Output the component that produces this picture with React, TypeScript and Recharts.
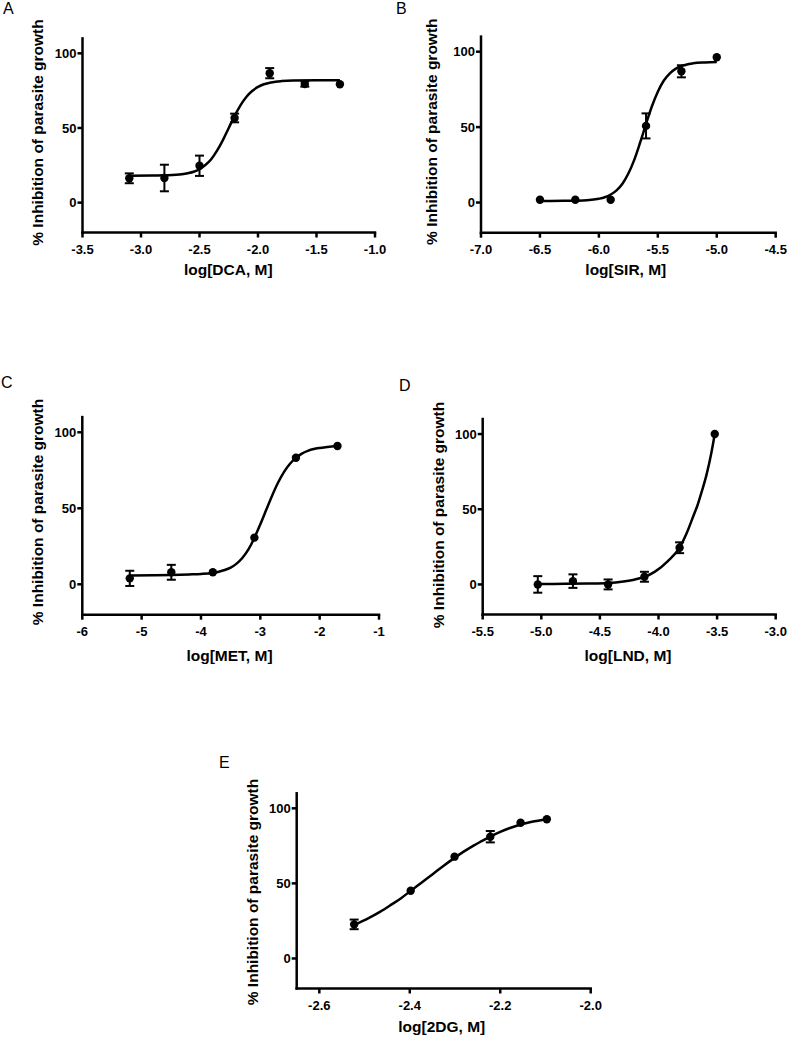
import { ComposedChart, Line, Scatter, XAxis, YAxis, ErrorBar, Label } from 'recharts';

const FONT = '"Liberation Sans", Arial, Helvetica, sans-serif';

// shared y ticks
const yTicks = [0, 50, 100];
const yDomain: [number, number] = [-20, 110];

// A - DCA
const dcaX = [-3.1, -2.8, -2.5, -2.2, -1.9, -1.6, -1.3];
const dcaY = [16.3, 16.5, 24.7, 56.7, 86.7, 79.5, 79.3];
const dcaErr = [3.3, 8.9, 6.8, 2.9, 3.4, 1.8, 0];
const dcaFitX = [-3.1, -2.9, -2.8, -2.7, -2.65, -2.6, -2.55, -2.5, -2.45, -2.4, -2.35, -2.3, -2.25, -2.2, -2.15, -2.1, -2.05, -2.0, -1.95, -1.9, -1.85, -1.8, -1.7, -1.5, -1.3];
const dcaFitY = [18, 18.1, 18.3, 18.6, 19, 19.7, 20.7, 22.5, 25.2, 29.1, 34.8, 41.9, 50, 58.1, 65.2, 70.8, 74.8, 77.5, 79.3, 80.3, 81, 81.4, 81.8, 82, 82];
const dcaTicks = [-3.5, -3.0, -2.5, -2.0, -1.5, -1.0];

// B - SIR
const sirX = [-6.5, -6.2, -5.9, -5.6, -5.3, -5.0];
const sirY = [1.8, 1.8, 1.8, 50.8, 87, 96.3];
const sirErr = [0, 0, 0, 8.3, 4, 0];
const sirFitX = [-6.5, -6.3, -6.2, -6.1, -6.0, -5.95, -5.9, -5.85, -5.8, -5.75, -5.7, -5.65, -5.6, -5.55, -5.5, -5.45, -5.4, -5.35, -5.3, -5.2, -5.1, -5.0];
const sirFitY = [1, 1.1, 1.2, 1.5, 2.5, 3.5, 5.3, 8.1, 12.5, 19.2, 28.3, 39.8, 52.1, 63.8, 73.5, 80.7, 85.5, 88.6, 90.5, 92.3, 92.9, 93.2];
const sirTicks = [-7.0, -6.5, -6.0, -5.5, -5.0, -4.5];

// C - MET
const metX = [-5.2, -4.5, -3.8, -3.1, -2.4, -1.7];
const metY = [3.9, 7.9, 7.9, 30.7, 83.3, 91];
const metErr = [5, 4.9, 0, 0, 0, 0];
const metFitX = [-5.2, -4.8, -4.5, -4.2, -4.0, -3.8, -3.7, -3.6, -3.5, -3.4, -3.3, -3.2, -3.1, -3.0, -2.9, -2.8, -2.7, -2.6, -2.5, -2.4, -2.3, -2.2, -2.1, -2.0, -1.9, -1.8, -1.7];
const metFitY = [5.8, 6, 6.2, 6.5, 6.8, 7.5, 8.3, 9.4, 11, 13.6, 17.5, 23, 30.5, 39.5, 49, 58.5, 67, 74, 79.3, 83.2, 86, 87.8, 89, 89.7, 90.2, 90.6, 91];
const metTicks = [-6, -5, -4, -3, -2, -1];

// D - LND
const lndX = [-5.03, -4.73, -4.43, -4.12, -3.82, -3.52];
const lndY = [0, 2.2, 0, 5.1, 24.4, 100];
const lndErr = [5.5, 4.5, 3.3, 3.3, 3.6, 0];
const lndFitX = [-5.03, -4.8, -4.6, -4.43, -4.3, -4.2, -4.12, -4.03, -3.92, -3.82, -3.76, -3.7, -3.67, -3.63, -3.59, -3.55, -3.52];
const lndFitY = [0.3, 0.4, 0.6, 1, 2, 3.3, 5, 8.5, 15.5, 24.5, 34, 46, 52, 62, 73, 87, 100];
const lndTicks = [-5.5, -5.0, -4.5, -4.0, -3.5, -3.0];

// E - 2DG
const dgX = [-2.523, -2.398, -2.301, -2.222, -2.155, -2.097];
const dgY = [22.7, 45.1, 67.8, 81.1, 90.4, 92.7];
const dgErr = [3.2, 0, 0, 3.8, 0, 0];
const dgFitX = [-2.523, -2.49, -2.466, -2.44, -2.42, -2.398, -2.375, -2.348, -2.325, -2.301, -2.28, -2.259, -2.24, -2.222, -2.2, -2.18, -2.155, -2.13, -2.097];
const dgFitY = [22.3, 27, 31, 36, 40, 45, 50.3, 56.5, 61.8, 67, 71.3, 75.2, 78.3, 81.2, 84.3, 86.7, 89.2, 91, 92.7];
const dgTicks = [-2.6, -2.4, -2.2, -2.0];

const toPoints = (xs: number[], ys: number[], errs: number[]) =>
  xs.map((x, i) => ({ x, y: ys[i], err: errs[i] }));
const toFit = (xs: number[], ys: number[]) => xs.map((x, i) => ({ x, y: ys[i] }));

type PanelDef = {
  letter: string;
  letterPos: [number, number];
  box: [number, number, number, number]; // left, top, width, height
  plot: [number, number, number, number]; // left, top, right, bottom (page px)
  xDomain: [number, number];
  xTicks: number[];
  digits: number;
  xTitle: string;
  xTitlePos: [number, number]; // center x, baseline
  yTitlePos: [number, number]; // baseline x, center y
  points: { x: number; y: number; err: number }[];
  fit: { x: number; y: number }[];
};

const panels: PanelDef[] = [
  {
    letter: 'A', letterPos: [3, 1], box: [0, 0, 390, 300], plot: [82.5, 38.4, 375, 232.5],
    xDomain: [-3.5, -1.0], xTicks: dcaTicks, digits: 1, xTitle: 'log[DCA, M]',
    xTitlePos: [228.3, 274.5], yTitlePos: [42.5, 132.5],
    points: toPoints(dcaX, dcaY, dcaErr), fit: toFit(dcaFitX, dcaFitY),
  },
  {
    letter: 'B', letterPos: [396, 1], box: [390, 0, 399, 300], plot: [481, 36.6, 775.7, 232.7],
    xDomain: [-7.0, -4.5], xTicks: sirTicks, digits: 1, xTitle: 'log[SIR, M]',
    xTitlePos: [625.8, 274.5], yTitlePos: [437, 131.7],
    points: toPoints(sirX, sirY, sirErr), fit: toFit(sirFitX, sirFitY),
  },
  {
    letter: 'C', letterPos: [1, 375], box: [0, 340, 390, 340], plot: [82.3, 417.1, 379, 614.7],
    xDomain: [-6, -1], xTicks: metTicks, digits: 0, xTitle: 'log[MET, M]',
    xTitlePos: [229.5, 660.6], yTitlePos: [43, 512],
    points: toPoints(metX, metY, metErr), fit: toFit(metFitX, metFitY),
  },
  {
    letter: 'D', letterPos: [399, 378], box: [390, 340, 399, 340], plot: [482.7, 419, 775.7, 614.5],
    xDomain: [-5.5, -3.0], xTicks: lndTicks, digits: 1, xTitle: 'log[LND, M]',
    xTitlePos: [628, 660.6], yTitlePos: [443.8, 515],
    points: toPoints(lndX, lndY, lndErr), fit: toFit(lndFitX, lndFitY),
  },
  {
    letter: 'E', letterPos: [219, 755], box: [200, 740, 420, 298], plot: [296.7, 793.3, 590.7, 988.5],
    xDomain: [-2.65, -2.0], xTicks: dgTicks, digits: 1, xTitle: 'log[2DG, M]',
    xTitlePos: [441.8, 1031.8], yTitlePos: [258, 892],
    points: toPoints(dgX, dgY, dgErr), fit: toFit(dgFitX, dgFitY),
  },
];

const tickStyle = { fill: '#000', fontSize: 13, fontWeight: 700, fontFamily: FONT };
const axisStroke = { stroke: '#000', strokeWidth: 2.5, strokeLinecap: 'square' as const };

function Panel({ p }: { p: PanelDef }) {
  const [bl, bt, bw, bh] = p.box;
  const [pl, pt, pr, pb] = p.plot;
  const margin = { top: pt - bt, right: bl + bw - pr, left: 0, bottom: 0 };
  const yTitleX = p.yTitlePos[0] - bl;
  const yTitleY = p.yTitlePos[1] - bt;
  const xTitleX = p.xTitlePos[0] - bl;
  const xTitleY = p.xTitlePos[1] - bt;

  return (
    <div style={{ position: 'absolute', left: bl, top: bt, width: bw, height: bh }}>
      <ComposedChart width={bw} height={bh} margin={margin}>
        <XAxis
          type="number"
          dataKey="x"
          domain={p.xDomain}
          ticks={p.xTicks}
          allowDataOverflow
          height={bt + bh - pb}
          axisLine={axisStroke}
          tickLine={{ stroke: '#000', strokeWidth: 2.5 }}
          tickSize={5}
          tickMargin={7}
          tick={tickStyle}
          tickFormatter={(v: number) => v.toFixed(p.digits)}
          interval={0}
        >
          <Label
            content={() => (
              <text x={xTitleX} y={xTitleY} textAnchor="middle" fontFamily={FONT} fontWeight={700} fontSize={15.5} fill="#000">
                {p.xTitle}
              </text>
            )}
          />
        </XAxis>
        <YAxis
          type="number"
          domain={yDomain}
          ticks={yTicks}
          allowDataOverflow
          width={pl - bl}
          axisLine={axisStroke}
          tickLine={{ stroke: '#000', strokeWidth: 2.5 }}
          tickSize={5}
          tickMargin={1}
          tick={tickStyle}
          interval={0}
        >
          <Label
            content={() => (
              <text
                x={yTitleX}
                y={yTitleY}
                transform={`rotate(-90, ${yTitleX}, ${yTitleY})`}
                textAnchor="middle"
                fontFamily={FONT}
                fontWeight={700}
                fontSize={15.5}
                fill="#000"
              >
                % Inhibition of parasite growth
              </text>
            )}
          />
        </YAxis>
        <Line
          data={p.fit}
          dataKey="y"
          type="monotone"
          stroke="#000"
          strokeWidth={2.5}
          dot={false}
          activeDot={false}
          isAnimationActive={false}
        />
        <Scatter
          data={p.points}
          dataKey="y"
          isAnimationActive={false}
          shape={(s: any) => <circle cx={s.cx} cy={s.cy} r={4.2} fill="#000" />}
        >
          <ErrorBar dataKey="err" direction="y" width={4.5} stroke="#000" strokeWidth={2} isAnimationActive={false} />
        </Scatter>
      </ComposedChart>
    </div>
  );
}

export default function App() {
  return (
    <div style={{ position: 'absolute', left: 0, top: 0, width: 789, height: 1038, background: '#fff' }}>
      {panels.map((p) => (
        <div key={p.letter}>
          <div
            style={{
              position: 'absolute',
              left: p.letterPos[0],
              top: p.letterPos[1],
              fontFamily: FONT,
              fontSize: 16,
              lineHeight: '16px',
              color: '#000',
            }}
          >
            {p.letter}
          </div>
          <Panel p={p} />
        </div>
      ))}
    </div>
  );
}
